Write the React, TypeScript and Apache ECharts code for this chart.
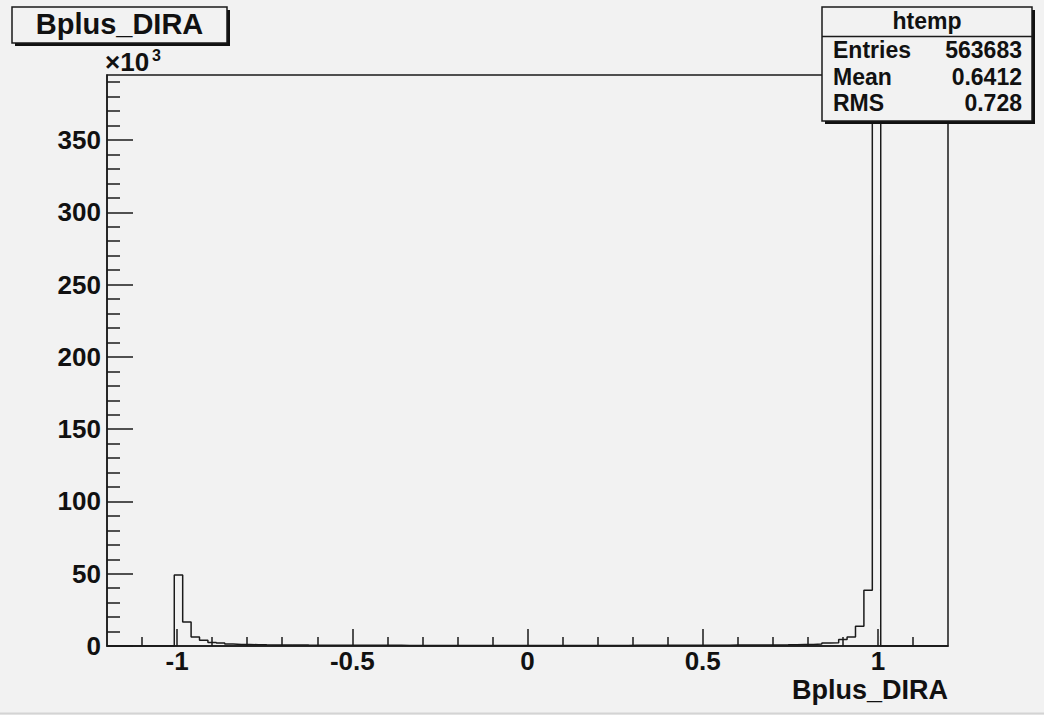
import React, { useEffect, useRef } from "react";
import * as echarts from "echarts";

// ---------- data ----------
const X_MIN = -1.2;
const X_MAX = 1.2;
const BIN_WIDTH = 0.024; // 100 bins over [-1.2, 1.2]
const Y_MAX = 395000;

// bins 0-7 : [-1.2, -1.008)
const binsLowEmpty = [0, 0, 0, 0, 0, 0, 0, 0];
// bins 8-18 : [-1.008, -0.744)
const binsLeftPeak = [49200, 16600, 6200, 3900, 2500, 2000, 1300, 1100, 1000, 900, 800];
// bins 19-79 : [-0.744, 0.72)
const binsMiddle = [
  720, 690, 660, 640, 610, 590, 570, 550, 530, 520,
  500, 490, 470, 460, 450, 440, 430, 420, 410, 400,
  400, 390, 380, 380, 370, 370, 370, 360, 360, 360,
  360, 370, 370, 370, 380, 380, 390, 390, 400, 410,
  410, 420, 430, 440, 450, 460, 470, 480, 490, 510,
  520, 540, 550, 570, 590, 610, 630, 650, 680, 710,
  740,
];
// bins 80-91 : [0.72, 1.008)
const binsRightPeak = [800, 900, 1000, 1100, 1300, 2000, 2300, 4500, 6200, 13700, 38600, 376000];
// bins 92-99 : [1.008, 1.2)
const binsHighEmpty = [0, 0, 0, 0, 0, 0, 0, 0];

const xMajorTicks = [-1, -0.5, 0, 0.5, 1];
const xMinorTicks = [-1.1, -0.9, -0.8, -0.7, -0.6, -0.4, -0.3, -0.2, -0.1, 0.1, 0.2, 0.3, 0.4, 0.6, 0.7, 0.8, 0.9, 1.1];
const yMajorTicks = [0, 50000, 100000, 150000, 200000, 250000, 300000, 350000];
const yMinorTicks = Array.from({ length: 39 }, (_, i) => (i + 1) * 10000).filter((v) => v % 50000 !== 0);

const histTitle = "Bplus_DIRA";
const statsName = "htemp";
const statsLabels = ["Entries", "Mean", "RMS"];
const statsValues = ["563683", "0.6412", "0.728"];

const counts = [...binsLowEmpty, ...binsLeftPeak, ...binsMiddle, ...binsRightPeak, ...binsHighEmpty];

// ---------- styles ----------
const BG = "#f2f2f2";
const INK = "#1a1a1a";
const FONT = "'Liberation Sans', Arial, Helvetica, sans-serif";

export default function App() {
  const ref = useRef<HTMLDivElement>(null);

  useEffect(() => {
    if (!ref.current) return;
    const chart = echarts.init(ref.current, undefined, { renderer: "svg" });

    const stepData: number[][] = counts.map((c, k) => [X_MIN + k * BIN_WIDTH, c]);
    stepData.push([X_MAX, counts[counts.length - 1]]);
    stepData.push([X_MAX, 0]);

    const tickStyle = { color: INK, width: 1.5 };
    const labelStyle = { color: "#111", fontFamily: FONT, fontWeight: "bold" as const, fontSize: 26 };

    const statsRows: any[] = [];
    const rowY = [50, 77, 103];
    statsLabels.forEach((lab, i) => {
      statsRows.push({
        type: "text", z: 102, x: 833, y: rowY[i],
        style: { text: lab, fill: "#111", font: `bold 23px ${FONT}`, textAlign: "left", textVerticalAlign: "middle" },
      });
      statsRows.push({
        type: "text", z: 102, x: 1022, y: rowY[i],
        style: { text: statsValues[i], fill: "#111", font: `bold 23px ${FONT}`, textAlign: "right", textVerticalAlign: "middle" },
      });
    });

    chart.setOption({
      animation: false,
      backgroundColor: BG,
      grid: {
        left: 107, right: 96, top: 75, bottom: 69,
        containLabel: false,
        outerBoundsMode: "none",
        show: true, backgroundColor: BG, borderColor: INK, borderWidth: 1.5,
      },
      xAxis: [
        {
          type: "value", min: X_MIN, max: X_MAX, position: "bottom",
          axisLine: { show: true, onZero: false, lineStyle: tickStyle },
          axisTick: { show: true, inside: true, length: 9, customValues: xMinorTicks, lineStyle: tickStyle },
          axisLabel: { show: false },
          splitLine: { show: false },
        },
        {
          type: "value", min: X_MIN, max: X_MAX, position: "bottom",
          axisLine: { show: false, onZero: false },
          axisTick: { show: true, inside: true, length: 17, customValues: xMajorTicks, lineStyle: tickStyle },
          axisLabel: { show: true, customValues: xMajorTicks, margin: 2, ...labelStyle },
          splitLine: { show: false },
        },
      ],
      yAxis: [
        {
          type: "value", min: 0, max: Y_MAX, position: "left",
          axisLine: { show: true, onZero: false, lineStyle: tickStyle },
          axisTick: { show: true, inside: true, length: 13, customValues: yMinorTicks, lineStyle: tickStyle },
          axisLabel: { show: false },
          splitLine: { show: false },
        },
        {
          type: "value", min: 0, max: Y_MAX, position: "left",
          axisLine: { show: false, onZero: false },
          axisTick: { show: true, inside: true, length: 26, customValues: yMajorTicks, lineStyle: tickStyle },
          axisLabel: {
            show: true, customValues: yMajorTicks, margin: 6, ...labelStyle,
            formatter: (v: number) => String(v / 1000),
          },
          splitLine: { show: false },
        },
      ],
      series: [
        {
          type: "line", name: histTitle, xAxisIndex: 0, yAxisIndex: 0,
          step: "end", symbol: "none", silent: true,
          lineStyle: { color: INK, width: 1.5 },
          data: stepData,
          z: 3,
        },
      ],
      graphic: [
        { type: "line", z: 100, shape: { x1: 0, y1: 713.5, x2: 1044, y2: 713.5 }, style: { stroke: "#d4d4d4", lineWidth: 2 } },
        // title box
        { type: "rect", z: 100, shape: { x: 15, y: 10, width: 215, height: 36 }, style: { fill: "#111" } },
        { type: "rect", z: 101, shape: { x: 12, y: 7, width: 215, height: 36 }, style: { fill: BG, stroke: INK, lineWidth: 1.5 } },
        {
          type: "text", z: 102, x: 119.5, y: 24,
          style: { text: histTitle, fill: "#111", font: `bold 29px ${FONT}`, textAlign: "center", textVerticalAlign: "middle" },
        },
        // stats box
        { type: "rect", z: 100, shape: { x: 825, y: 10, width: 210, height: 114 }, style: { fill: "#111" } },
        { type: "rect", z: 101, shape: { x: 822, y: 7, width: 210, height: 114 }, style: { fill: BG, stroke: INK, lineWidth: 1.5 } },
        { type: "line", z: 102, shape: { x1: 822, y1: 36.5, x2: 1032, y2: 36.5 }, style: { stroke: INK, lineWidth: 1.5 } },
        {
          type: "text", z: 102, x: 927, y: 21,
          style: { text: statsName, fill: "#111", font: `bold 23px ${FONT}`, textAlign: "center", textVerticalAlign: "middle" },
        },
        ...statsRows,
        // exponent
        {
          type: "text", z: 102, x: 105, y: 62,
          style: { text: "×10", fill: "#111", font: `bold 26px ${FONT}`, textAlign: "left", textVerticalAlign: "middle" },
        },
        {
          type: "text", z: 102, x: 152, y: 55,
          style: { text: "3", fill: "#111", font: `bold 16px ${FONT}`, textAlign: "left", textVerticalAlign: "middle" },
        },
        // x-axis title
        {
          type: "text", z: 102, x: 948, y: 690,
          style: { text: histTitle, fill: "#111", font: `bold 27px ${FONT}`, textAlign: "right", textVerticalAlign: "middle" },
        },
      ],
    });

    return () => chart.dispose();
  }, []);

  return (
    <div
      ref={ref}
      style={{ position: "fixed", left: 0, top: 0, width: 1044, height: 715, background: BG }}
    />
  );
}
